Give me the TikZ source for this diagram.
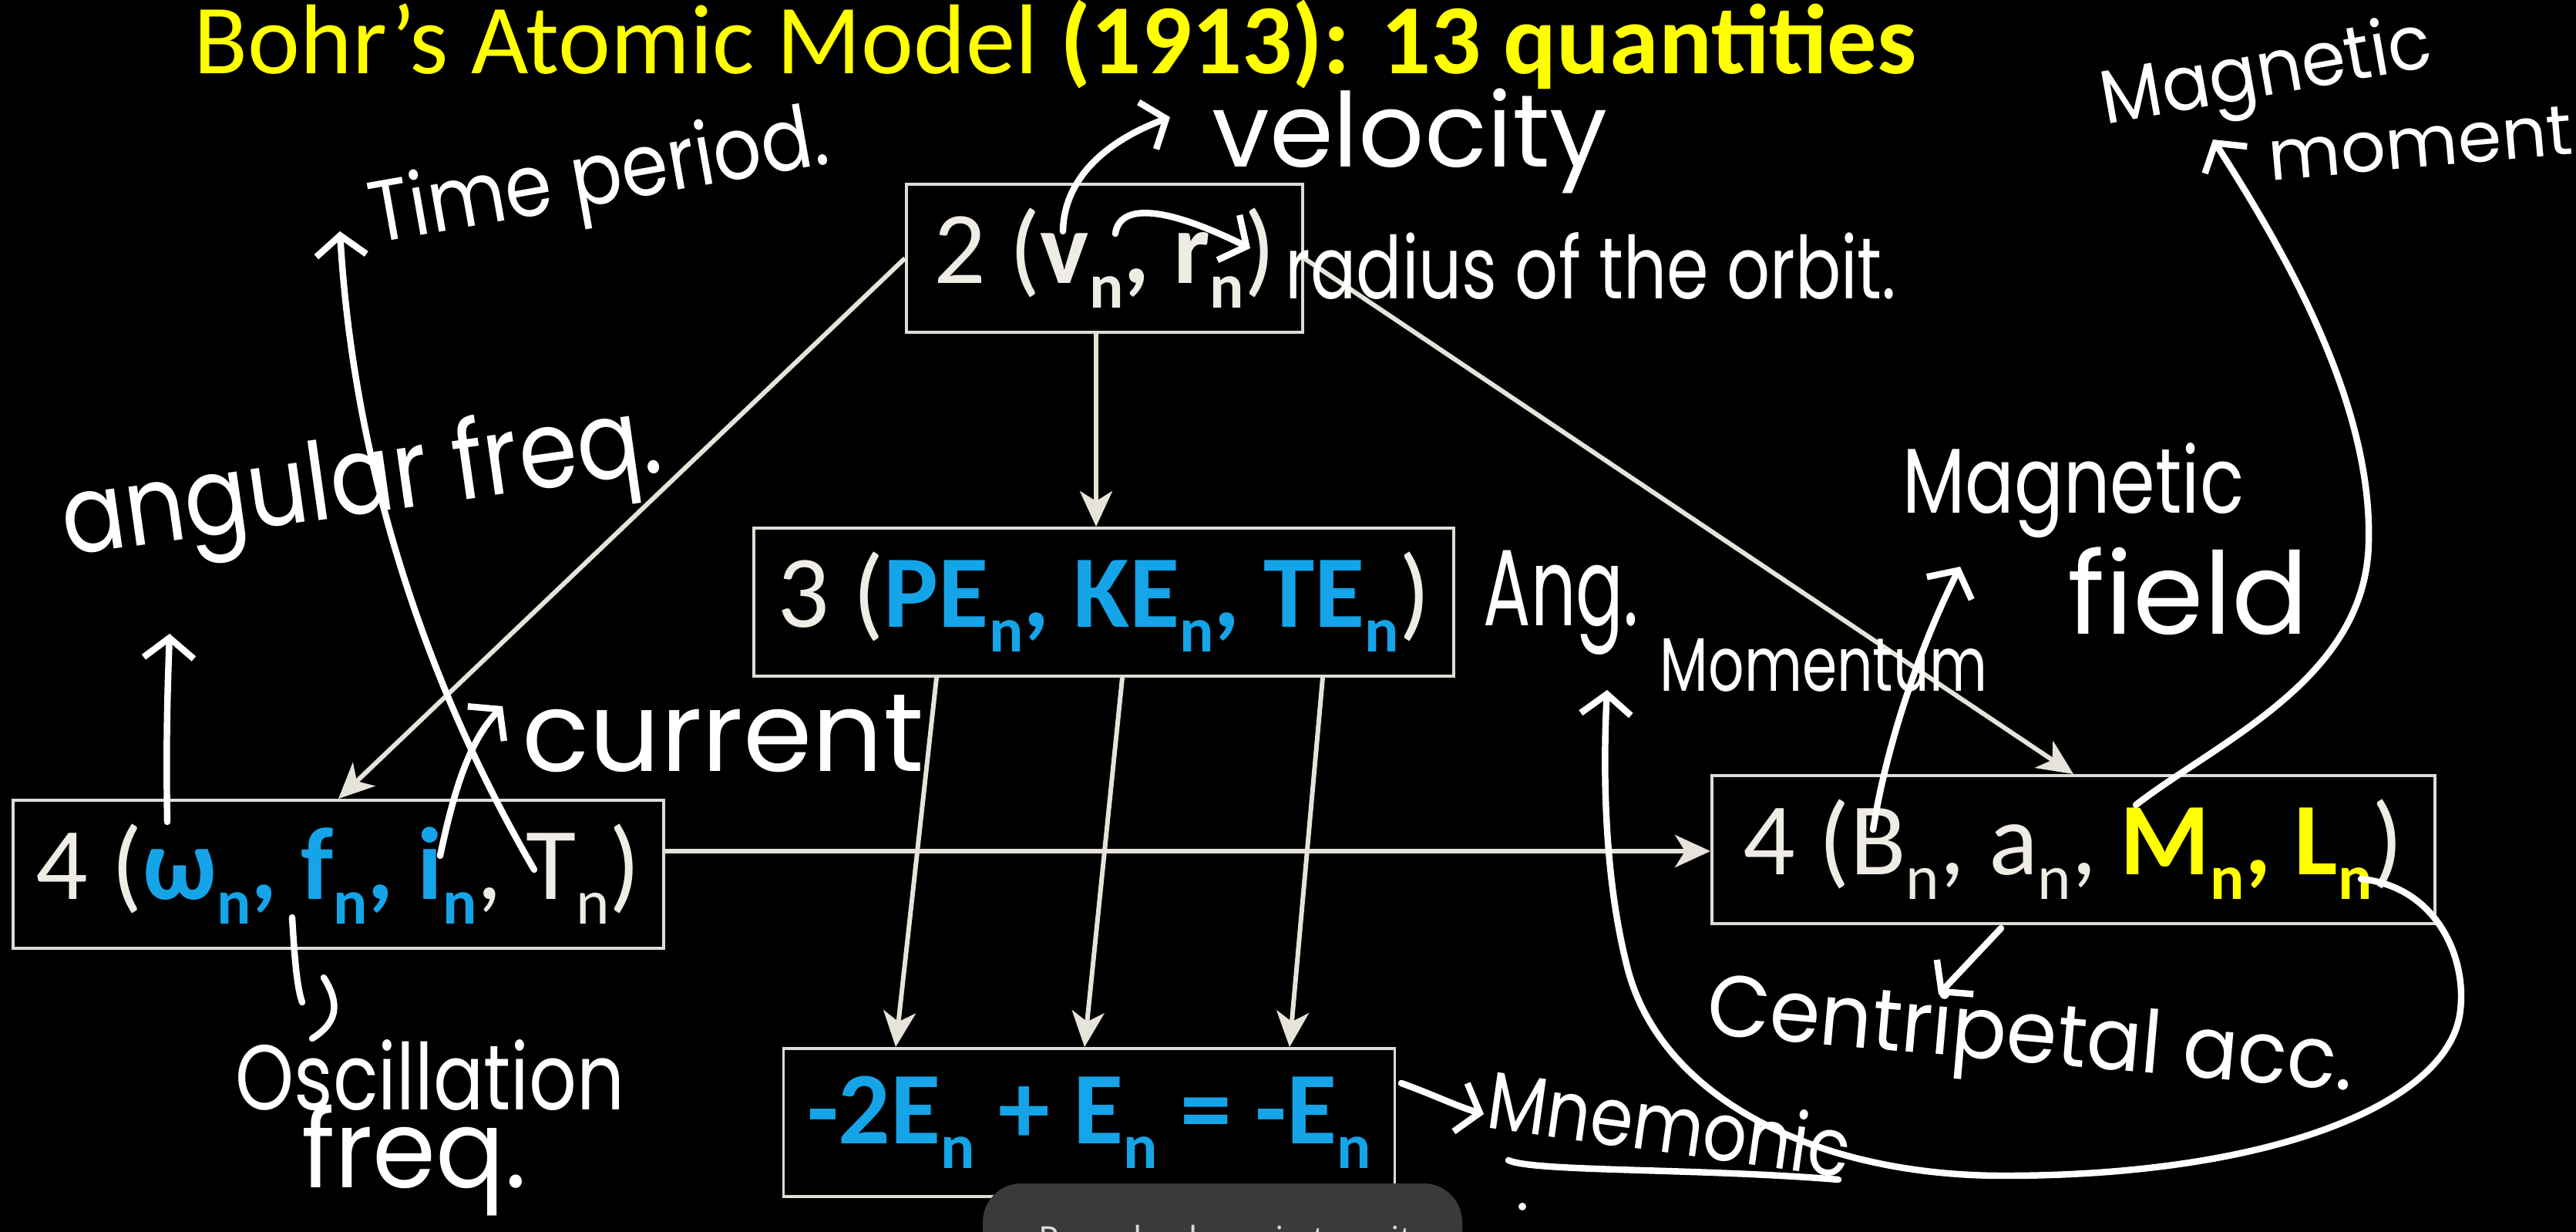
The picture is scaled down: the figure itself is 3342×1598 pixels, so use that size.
\documentclass[tikz,border=0pt]{standalone}
\usepackage{fontspec}
\setmainfont{Carlito}
\newfontfamily\handf{Poppins}
\newfontfamily\toastf{Noto Sans}
\usetikzlibrary{arrows.meta}
\definecolor{bgc}{RGB}{0,0,0}
\definecolor{boxc}{RGB}{222,220,213}
\definecolor{linec}{RGB}{230,227,218}
\definecolor{txtc}{RGB}{238,236,229}
\definecolor{bl}{RGB}{22,164,232}
\definecolor{yl}{RGB}{255,255,0}
\definecolor{toastc}{RGB}{58,58,58}
\newcommand\sbn{\raisebox{-0.24em}{\scalebox{0.62}{n}}}
\newcommand\bfs{\fontsize{38pt}{44pt}\selectfont}
\newcommand\hs[1]{\handf\fontsize{#1}{#1}\selectfont}
\tikzset{
  qbox/.style={draw=boxc, line width=1.1pt, text=txtc, font=\bfs, inner sep=0pt, minimum height=19.2mm},
  conn/.style={draw=linec, line width=1.7pt, -{Stealth[length=4.6mm,width=4.2mm,inset=1.3mm]}},
  hw/.style={draw=white, line width=2.4pt, line cap=round, line join=round},
  hwa/.style={hw, -{Straight Barb[length=2.6mm,width=6.5mm]}},
  hand/.style={text=white, inner sep=0pt, font=\handf},
}
\begin{document}
\begin{tikzpicture}[x=0.1mm, y=-0.1mm]
\useasboundingbox (0,0) rectangle (3342,1598);
\clip (0,0) rectangle (3342,1598);
\fill[bgc] (0,0) rectangle (3342,1598);

% title
\node[anchor=base west, text=yl, inner sep=0pt, font=\fontsize{36.6pt}{42pt}\selectfont] (title) at (251,96) {Bohr’s Atomic Model \textbf{(1913): 13 quantities}};

% boxes
\node[qbox, minimum width=51.4mm] (b2) at (1433,335) {2 (\textbf{v\sbn, r\sbn})};
\node[qbox, minimum width=90.8mm] (b3) at (1432,781) {3 (\textcolor{bl}{\textbf{PE\sbn, KE\sbn, TE\sbn}})};
\node[qbox, minimum width=84.4mm] (b4l) at (439,1134) {4 (\textcolor{bl}{\textbf{ω\sbn, f\sbn, i\sbn}}, T\sbn)};
\node[qbox, minimum width=93.8mm] (b4r) at (2690,1102) {4 (B\sbn, a\sbn, \textcolor{yl}{\textbf{M\sbn, L\sbn}})\hspace{3mm}};
\node[qbox, minimum width=79.3mm] (b5) at (1413,1456) {\textcolor{bl}{\textbf{-2E\sbn{} + E\sbn{} = -E\sbn}}};

% printed connectors
\draw[conn] (b2.south -| 1422,0) -- (b3.north -| 1422,0);
\draw[conn] (b2.west) -- (b4l.north);
\draw[conn] (b2.east) -- (b4r.north);
\draw[conn] (b4l.east |- 0,1104) -- (b4r.west |- 0,1104);
\draw[conn] ([xshift=-21.7mm]b3.south) -- ([xshift=-25.1mm]b5.north);
\draw[conn] ([xshift=2.4mm]b3.south) -- ([xshift=-0.6mm]b5.north);
\draw[conn] ([xshift=28.4mm]b3.south) -- ([xshift=26mm]b5.north);

% handwritten labels
\node[hand, font=\hs{38pt}] (lvel) at (1829,183) {velocity};
\node[hand, xscale=0.78, font=\hs{32pt}] (lrad) at (2064,345) {radius of the orbit.};
\node[hand, rotate=10, xscale=0.87, font=\hs{32pt}] (ltime) at (778,236) {Time period.};
\node[hand, rotate=8, xscale=0.87, font=\hs{40pt}] (lang) at (469,632) {angular freq.};
\node[hand, font=\hs{41pt}] (lcur) at (938,952) {current};
\node[hand, xscale=0.81, font=\hs{34pt}] (losc) at (558,1395) {Oscillation};
\node[hand, xscale=0.94, font=\hs{40pt}] (lfreq) at (537,1505) {freq.};
\node[hand, xscale=0.79, font=\hs{34pt}] (lmag) at (2690,636) {Magnetic};
\node[hand, font=\hs{42pt}] (lfield) at (2839,767) {field};
\node[hand, rotate=10, xscale=0.94, font=\hs{28pt}] (lmag2) at (2941,100) {Magnetic};
\node[hand, rotate=5, font=\hs{26pt}] (lmom) at (3140,186) {moment};
\node[hand, xscale=0.65, font=\hs{40pt}] (lang2) at (2025,782) {Ang.};
\node[hand, xscale=0.74, font=\hs{28pt}] (lmomen) at (2366,863) {Momentum};
\node[hand, rotate=-5, xscale=0.94, font=\hs{32pt}] (lcent) at (2634,1350) {Centripetal acc.};
\node[hand, rotate=-8, xscale=0.85, font=\hs{30pt}] (lmne) at (2166,1456) {Mnemonic};

% handwritten arrow ends
\coordinate (vS) at (1379,300);   \coordinate (vE) at (1518,152);
\coordinate (rS) at (1447,303);   \coordinate (rE) at (1622,322);
\coordinate (tS) at (693,1128);   \coordinate (tE) at (441,300);
\coordinate (wS) at (217,1066);   \coordinate (wE) at (220,822);
\coordinate (iS) at (571,1110);   \coordinate (iE) at (652,916);
\coordinate (fS) at (379,1190);   \coordinate (fE) at (392,1300);
\coordinate (bS) at (2430,1076);  \coordinate (bE) at (2543,735);
\coordinate (mS) at (2771,1044);  \coordinate (mE) at (2871,181);
\coordinate (lS) at (3063,1140);  \coordinate (lE) at (2085,895);
\coordinate (aS) at (2596,1204);  \coordinate (aE) at (2515,1290);
\coordinate (eS) at (1818,1405);  \coordinate (eE) at (1925,1445);

\draw[hwa] (vS) .. controls (1380,235) and (1430,185) .. (vE);
\draw[hwa] (rS) .. controls (1452,268) and (1500,262) .. (rE);
\draw[hwa] (tS) .. controls (560,900) and (460,620) .. (tE);
\draw[hwa] (wS) .. controls (215,950) and (218,880) .. (wE);
\draw[hwa] (iS) .. controls (590,1020) and (610,960) .. (iE);
\draw[hw] (fS) .. controls (382,1240) and (385,1280) .. (fE);
\draw[hw] (420,1268) .. controls (440,1300) and (440,1325) .. (405,1347);
\draw[hwa] (bS) .. controls (2450,950) and (2500,820) .. (bE);
\draw[hwa] (mS) .. controls (2880,960) and (3070,880) .. (3073,703) .. controls (3078,520) and (2960,320) .. (mE);
\draw[hwa] (lS) .. controls (3160,1150) and (3200,1240) .. (3192,1310) .. controls (3180,1430) and (2950,1525) .. (2600,1525) .. controls (2350,1525) and (2150,1420) .. (2110,1250) .. controls (2080,1130) and (2080,990) .. (lE);
\draw[hwa] (aS) -- (aE);
\draw[hwa] (eS) .. controls (1860,1420) and (1890,1435) .. (eE);
\draw[hw] (1957,1505) .. controls (1990,1520) and (2200,1515) .. (2385,1530);
\fill[white] (1975,1565) circle (5);

% toast
\fill[toastc, rounded corners=5mm] (1275,1535) rectangle (1897,1720);
\node[anchor=base, text=white!85!black, inner sep=0pt, font=\toastf\fontsize{12.5pt}{14pt}\selectfont] (toast) at (1590,1622) {Press back again to exit};
\end{tikzpicture}
\end{document}
